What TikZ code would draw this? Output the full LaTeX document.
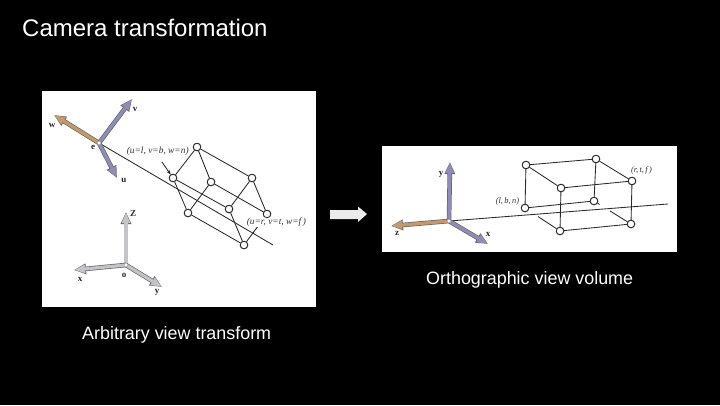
\documentclass[tikz,border=0pt]{standalone}
\usepackage{fontspec}
\setmainfont{Liberation Sans}
\newfontfamily\figserif{Liberation Serif}
\usetikzlibrary{arrows.meta,calc}
\definecolor{axv}{HTML}{8E8DB8}
\definecolor{axw}{HTML}{C49A6C}
\definecolor{axg}{HTML}{C4C4C8}
\definecolor{edgec}{HTML}{2A2A2A}
\tikzset{
  panel/.style={fill=white,draw=none},
  corner/.style={circle,draw=edgec,fill=white,line width=0.85pt,minimum size=7.5pt,inner sep=0pt},
  edgeln/.style={draw=edgec,line width=0.85pt},
  halo/.style={draw=white,line width=2.6pt},
  slidetext/.style={text=white,inner sep=0pt,anchor=base west},
  titletext/.style={slidetext,font=\fontsize{24}{28}\selectfont},
  captext/.style={slidetext,font=\fontsize{17.9}{21}\selectfont},
  figtext/.style={text=black!80,inner sep=0.6pt,font=\figserif\fontsize{9.4}{11}\selectfont},
  figtexts/.style={text=black!80,inner sep=0.6pt,font=\figserif\fontsize{8.4}{10}\selectfont},
  figlab/.style={text=black!85,inner sep=0pt,font=\figserif\bfseries\fontsize{9}{11}\selectfont},
  axout/.style={draw=black!60,line width=4.6pt,-{Triangle[length=12pt,width=10pt,fill=black!60]}},
  axin/.style={draw=#1,line width=3.2pt,-{Triangle[length=10.5pt,width=8pt,fill=#1]},shorten >=0.6pt,shorten <=0.5pt},
  hub/.style={circle,fill=white,draw=black!50,line width=0.4pt,minimum size=4pt,inner sep=0pt},
  bigarrow/.style={draw=none,fill=black!8}
}
\newcommand{\axisarrow}[3]{%
  \draw[axout] (#1) -- (#2);
  \draw[axin=#3] (#1) -- (#2);
}
\begin{document}
\begin{tikzpicture}[x=1pt,y=-1pt]
\useasboundingbox[fill=black] (0,0) rectangle (720,405);
% left panel
\path[panel] (42,91) rectangle (316,307);
\coordinate (e) at (99,143);
\coordinate (wtip) at (54,115);
\coordinate (vtip) at (132,99);
\coordinate (utip) at (117,178);
\coordinate (axend) at (273,245);
\node[corner] (A) at (197,147) {};
\node[corner] (B) at (252,178) {};
\node[corner] (C) at (267,214) {};
\node[corner] (D) at (211,182) {};
\node[corner] (E) at (173,178) {};
\node[corner] (F) at (188,213) {};
\node[corner] (G) at (229,209) {};
\node[corner] (H) at (244,245) {};
\draw[edgeln] (e) -- (axend);
\draw[edgeln] (A) -- (B);
\draw[edgeln] (B) -- (C);
\draw[edgeln] (A) -- (D);
\draw[edgeln] (D) -- (C);
\draw[edgeln] (A) -- (E);
\draw[edgeln] (D) -- (F);
\draw[edgeln] (B) -- (G);
\draw[edgeln] (E) -- (G);
\draw[edgeln] (E) -- (F);
\draw[edgeln] (F) -- (H);
\draw[edgeln] (G) -- (H);
\draw[edgeln] (C) -- (H);
\node[figtext,anchor=west] (n1) at (126,151.5) {\textit{(u=l, v=b, w=n)}};
\node[figtext,anchor=west,fill=white] (n2) at (246,222) {\textit{(u=r, v=t, w=f\,)}};
\foreach \n in {A,B,C,D,E,F,G,H} {\node[corner] at (\n) {};}
\axisarrow{e}{wtip}{axw}
\axisarrow{e}{vtip}{axv}
\axisarrow{e}{utip}{axv}
\node[hub] (ehub) at (e) {};
\node[figlab] (lw) at (52,125) {w};
\node[figlab] (lv) at (135,109) {v};
\node[figlab] (lu) at (124,180) {u};
\node[figlab] (le) at (93,147) {e};
\coordinate (pt1) at (162,162);
\draw[edgeln,-{Stealth[length=4.5pt,width=3.5pt]}] (pt1) -- (E);
% world axes
\coordinate (o) at (126,265);
\coordinate (ztip) at (126,212);
\coordinate (xtip) at (74,270);
\coordinate (ytip) at (162,287);
\axisarrow{o}{ztip}{axg}
\axisarrow{o}{xtip}{axg}
\axisarrow{o}{ytip}{axg}
\node[hub] (ohub) at (o) {};
\node[figlab] (lz) at (133,214) {Z};
\node[figlab] (lx) at (80,279) {x};
\node[figlab] (lo) at (124,275) {o};
\node[figlab] (ly) at (157,292) {y};
% right panel
\path[panel] (382,146) rectangle (677,252);
\coordinate (c) at (449,221);
\coordinate (ytwo) at (450,162);
\coordinate (ztwo) at (391,226);
\coordinate (xtwo) at (488,244);
\coordinate (axtwo) at (668,204);
\node[corner] (P) at (526,165) {};
\node[corner] (Q) at (596,159) {};
\node[corner] (R) at (632,181) {};
\node[corner] (S) at (561,188) {};
\node[corner] (T) at (525,208) {};
\node[corner] (U) at (594,201) {};
\node[corner] (V) at (631,224) {};
\node[corner] (W) at (560,231) {};
\draw[edgeln] (T) -- (U);
\draw[edgeln] (Q) -- (U);
\draw[edgeln] (U) -- ($(U)!0.15!(V)$);
\draw[edgeln] ($(U)!0.43!(V)$) -- (V);
\draw[edgeln] ($(T)!0.37!(W)$) -- (W);
\draw[halo] (c) -- (axtwo);
\draw[edgeln] (c) -- (axtwo);
\draw[edgeln] (P) -- (Q);
\draw[edgeln] (Q) -- (R);
\draw[edgeln] (R) -- (S);
\draw[edgeln] (S) -- (P);
\draw[edgeln] (P) -- (T);
\draw[edgeln] (R) -- (V);
\draw[edgeln] (S) -- (W);
\draw[edgeln] (V) -- (W);
\foreach \n in {P,Q,R,S,T,U,V,W} {\node[corner] at (\n) {};}
\axisarrow{c}{ytwo}{axv}
\axisarrow{c}{ztwo}{axw}
\axisarrow{c}{xtwo}{axv}
\node[hub] (chub) at (c) {};
\node[figlab] (ly2) at (441,174) {y};
\node[figlab] (lz2) at (397,233) {z};
\node[figlab] (lx2) at (488,234) {x};
\node[figtexts] (n3) at (507.5,201) {\textit{(l,\,b,\,n)}};
\node[figtexts] (n4) at (641.5,170) {\textit{(r,\,t,\,f\,)}};
% big arrow
\draw[bigarrow] (330,210) -- (358,210) -- (358,206.5) -- (367,214) -- (358,222) -- (358,219) -- (330,219) -- cycle;
% text
\node[titletext] (title) at (22,36.5) {Camera transformation};
\node[captext] (cap1) at (426,284) {Orthographic view volume};
\node[captext] (cap2) at (82,339) {Arbitrary view transform};
\end{tikzpicture}
\end{document}
